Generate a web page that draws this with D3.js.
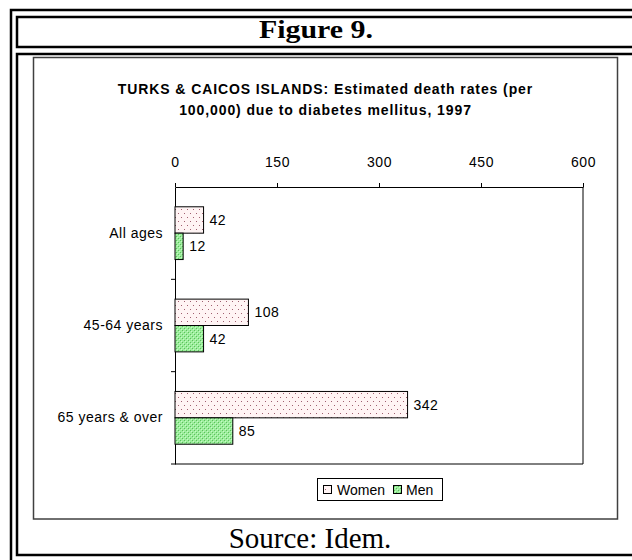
<!DOCTYPE html>
<html><head><meta charset="utf-8">
<script src="https://cdn.jsdelivr.net/npm/d3@7"></script>
<style>body{margin:0;background:#fff}svg{display:block}</style>
</head><body>
<script>
const categories = ["All ages", "45-64 years", "65 years & over"];
const seriesNames = ["Women", "Men"];
const women = [42, 108, 342];
const men = [12, 42, 85];
const xTicks = [0, 150, 300, 450, 600];
const titleLines = ["TURKS & CAICOS ISLANDS: Estimated death rates (per", "100,000) due to diabetes mellitus, 1997"];

const W = 632, H = 560;
const svg = d3.select("body").append("svg").attr("width", W).attr("height", H);
const defs = svg.append("defs");

// patterns
const pw = defs.append("pattern").attr("id","pWomen").attr("patternUnits","userSpaceOnUse").attr("width",6).attr("height",8);
pw.append("rect").attr("width",6).attr("height",8).attr("fill","#fff4f4");
pw.append("rect").attr("x",1).attr("y",1).attr("width",1).attr("height",1).attr("fill","#a06070");
pw.append("rect").attr("x",4).attr("y",5).attr("width",1).attr("height",1).attr("fill","#a06070");
const pm = defs.append("pattern").attr("id","pMen").attr("patternUnits","userSpaceOnUse").attr("width",4).attr("height",4);
pm.append("rect").attr("width",4).attr("height",4).attr("fill","#9cee9c");
pm.append("rect").attr("x",0).attr("y",0).attr("width",1).attr("height",1).attr("fill","#5cc05c");
pm.append("rect").attr("x",2).attr("y",2).attr("width",1).attr("height",1).attr("fill","#5cc05c");
pm.append("rect").attr("x",1).attr("y",1).attr("width",1).attr("height",1).attr("fill","#c8f8c8");
pm.append("rect").attr("x",3).attr("y",3).attr("width",1).attr("height",1).attr("fill","#c8f8c8");
const fills = ["url(#pWomen)", "url(#pMen)"];

// frames
const frame = svg.append("g").attr("fill","none").attr("stroke","#000");
frame.append("path").attr("d","M11,562 V10 H634").attr("stroke-width",2.5);
frame.append("path").attr("d","M634,17 H17 V47 H634").attr("stroke-width",2.5);
frame.append("path").attr("d","M634,54 H17 V555 H634").attr("stroke-width",2.5);
svg.append("rect").attr("x",33.5).attr("y",57.5).attr("width",584).attr("height",461.5)
  .attr("fill","none").attr("stroke","#404040").attr("stroke-width",1.5);

svg.append("g").attr("transform","translate(316,38) scale(1.15,1)")
  .append("text").attr("x",0).attr("y",0).attr("text-anchor","middle")
  .attr("font-family","Liberation Serif, Times New Roman, serif").attr("font-weight","bold").attr("font-size",26)
  .text("Figure 9.");
svg.append("text").attr("x",310).attr("y",548).attr("text-anchor","middle")
  .attr("font-family","Liberation Serif, Times New Roman, serif").attr("font-size",29)
  .text("Source: Idem.");

const font = "Liberation Sans, Arial, sans-serif";
svg.append("g").selectAll("text").data(titleLines).join("text")
  .attr("x",325.5).attr("y",(d,i)=>94+i*21).attr("text-anchor","middle")
  .attr("font-family",font).attr("font-weight","bold").attr("font-size",14)
  .attr("letter-spacing",0.9).text(d=>d);

// scales
const x = d3.scaleLinear().domain([0,600]).range([175,583]);
const y = d3.scaleBand().domain(categories).range([187,464]).paddingInner(0).paddingOuter(0);
const inner = d3.scaleBand().domain(seriesNames).range([0,y.bandwidth()]).paddingOuter(0.75).paddingInner(0);

// plot border (right and bottom)
svg.append("path").attr("d",`M${x(600)},${y.range()[0]} V${y.range()[1]} H${x(0)}`)
  .attr("fill","none").attr("stroke","#000").attr("stroke-width",1);

// top axis
const xAxis = d3.axisTop(x).tickValues(xTicks).tickSize(4).tickPadding(16).tickSizeOuter(0);
const gx = svg.append("g").attr("transform",`translate(0,${y.range()[0]})`).call(xAxis);
gx.select(".domain").attr("stroke","#000");
gx.selectAll("text").attr("font-family",font).attr("font-size",14).attr("letter-spacing",0.5).attr("fill","#000");

// left axis
const yAxis = d3.axisLeft(y).tickSize(0).tickPadding(12);
const gy = svg.append("g").attr("transform",`translate(${x(0)},0)`).call(yAxis);
gy.select(".domain").attr("stroke","#000");
gy.selectAll("text").attr("font-family",font).attr("font-size",14).attr("letter-spacing",0.5).attr("fill","#000");
// category separator ticks
svg.append("g").selectAll("line").data(categories).join("line")
  .attr("x1",x(0)-4).attr("x2",x(0))
  .attr("y1",d=>y(d)+y.bandwidth()).attr("y2",d=>y(d)+y.bandwidth())
  .attr("stroke","#000");

// bars
const data = [];
categories.forEach((c,i)=>{
  data.push({cat:c, s:"Women", v:women[i], f:fills[0]});
  data.push({cat:c, s:"Men", v:men[i], f:fills[1]});
});
const bars = svg.append("g");
bars.selectAll("rect").data(data).join("rect")
  .attr("x",x(0)).attr("y",d=>y(d.cat)+inner(d.s))
  .attr("width",d=>x(d.v)-x(0)).attr("height",inner.bandwidth())
  .attr("fill",d=>d.f).attr("stroke","#000").attr("stroke-width",1);
bars.selectAll("text").data(data).join("text")
  .attr("x",d=>x(d.v)+6).attr("y",d=>y(d.cat)+inner(d.s)+inner.bandwidth()/2)
  .attr("dy","0.35em").attr("font-family",font).attr("font-size",14).attr("letter-spacing",0.5).text(d=>d.v);

// legend
const lg = svg.append("g");
lg.append("rect").attr("x",317.5).attr("y",478.5).attr("width",125).attr("height",22)
  .attr("fill","#fff").attr("stroke","#000");
const items = [{n:"Women",sx:323,tx:337,f:fills[0]},{n:"Men",sx:393,tx:406,f:fills[1]}];
lg.selectAll("rect.sw").data(items).join("rect").attr("class","sw")
  .attr("x",d=>d.sx+0.5).attr("y",485.5).attr("width",8).attr("height",8)
  .attr("fill",d=>d.f).attr("stroke","#000");
lg.selectAll("text").data(items).join("text")
  .attr("x",d=>d.tx).attr("y",490).attr("dy","0.35em")
  .attr("font-family",font).attr("font-size",14).text(d=>d.n);
</script>
</body></html>
